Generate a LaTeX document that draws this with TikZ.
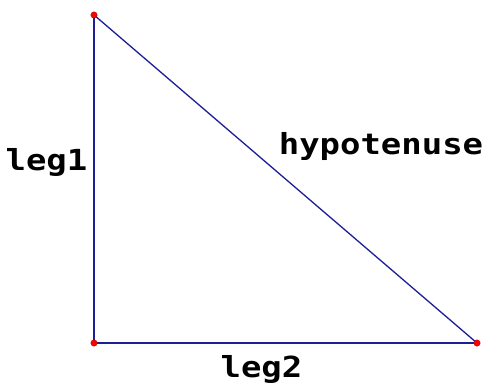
\documentclass[tikz,border=0pt]{standalone}
\usepackage{fontspec}
\newfontfamily\labfont[FakeStretch=1.17]{DejaVu Sans Mono Bold}
\definecolor{edgeblue}{RGB}{30,30,150}
\begin{document}
\begin{tikzpicture}[x=1pt,y=-1pt,
  vtx/.style={circle,fill=red,draw=red!60!black,line width=0.3pt,inner sep=0pt,minimum size=6.5pt},
  edge/.style={draw=edgeblue,line width=1.3pt},
  lab/.style={font=\labfont\fontsize{29}{30}\selectfont,inner sep=0pt,anchor=base,text=black}]
\useasboundingbox (0,0) rectangle (485,383);
\coordinate (A) at (94,15);
\coordinate (B) at (94,343);
\coordinate (C) at (477,343);
\draw[edge] (A) -- (B);
\draw[edge] (B) -- (C);
\draw[edge] (C) -- (A);
\node[vtx] (va) at (A) {};
\node[vtx] (vb) at (B) {};
\node[vtx] (vc) at (C) {};
\node[lab] (l1) at (46.5,170) {leg1};
\node[lab] (hy) at (381,154) {hypotenuse};
\node[lab] (l2) at (261.5,377) {leg2};
\end{tikzpicture}
\end{document}
